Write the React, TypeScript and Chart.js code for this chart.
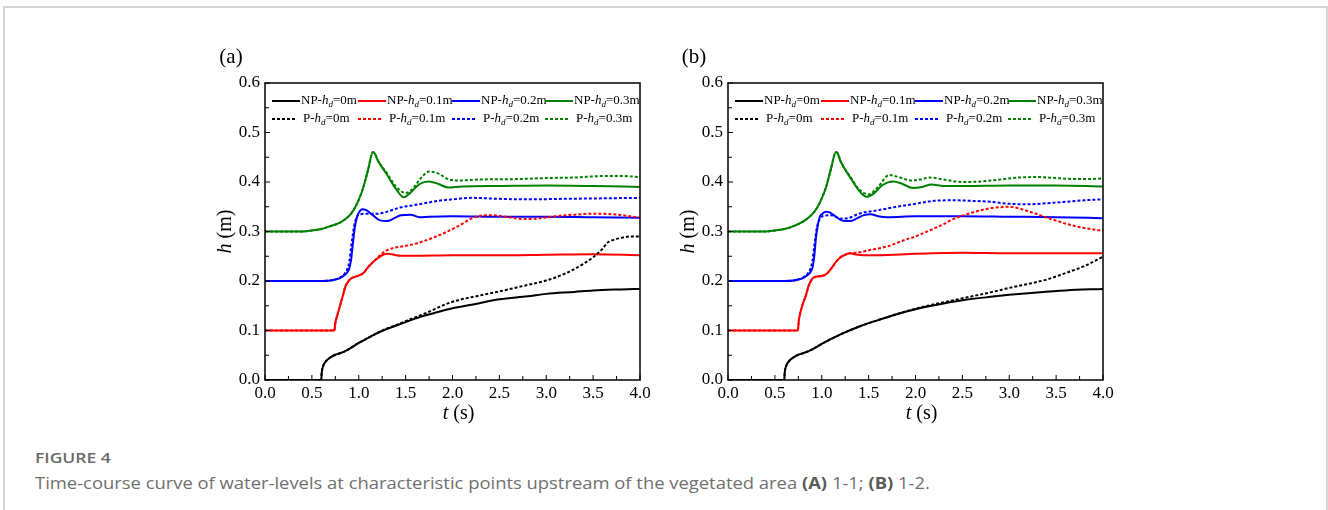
import React, { useEffect, useRef } from "react";
import { Chart, registerables } from "chart.js";

Chart.register(...registerables);

// ---------- tick labels ----------
const xTickValues = [0, 0.5, 1, 1.5, 2, 2.5, 3, 3.5, 4];
const xTickLabels = ["0.0", "0.5", "1.0", "1.5", "2.0", "2.5", "3.0", "3.5", "4.0"];
const yTickValues = [0, 0.1, 0.2, 0.3, 0.4, 0.5, 0.6];
const yTickLabels = ["0.0", "0.1", "0.2", "0.3", "0.4", "0.5", "0.6"];

// ---------- legend ----------
const legendPrefixes = ["NP-", "P-"];
const legendDepths = ["=0m", "=0.1m", "=0.2m", "=0.3m"];
const seriesColors = ["#000000", "#ff0000", "#0000ff", "#008000"];

// ---------- panel (a) data ----------
const tA_NP0 = [0, 0.6, 0.605, 0.62, 0.65, 0.7, 0.75, 0.8, 0.85, 0.9, 1.0, 1.1, 1.2, 1.3, 1.4, 1.5, 1.6, 1.8, 2.0, 2.2, 2.5, 2.8, 3.0, 3.3, 3.5, 3.8, 4.0];
const hA_NP0 = [0, 0, 0.015, 0.028, 0.038, 0.046, 0.051, 0.054, 0.058, 0.063, 0.075, 0.085, 0.095, 0.103, 0.11, 0.117, 0.124, 0.135, 0.145, 0.152, 0.163, 0.169, 0.174, 0.178, 0.181, 0.183, 0.184];
const tA_P0 = [0, 0.6, 0.605, 0.62, 0.65, 0.7, 0.75, 0.8, 0.85, 0.9, 1.0, 1.1, 1.2, 1.3, 1.4, 1.5, 1.7, 2.0, 2.3, 2.5, 2.8, 3.0, 3.2, 3.4, 3.5, 3.55, 3.6, 3.65, 3.7, 3.8, 3.9, 4.0];
const hA_P0 = [0, 0, 0.015, 0.028, 0.038, 0.046, 0.051, 0.054, 0.058, 0.063, 0.075, 0.085, 0.095, 0.104, 0.111, 0.119, 0.134, 0.158, 0.171, 0.179, 0.192, 0.201, 0.215, 0.235, 0.248, 0.256, 0.265, 0.277, 0.282, 0.287, 0.29, 0.29];

const tA_NP1 = [0, 0.74, 0.75, 0.77, 0.8, 0.83, 0.86, 0.9, 0.95, 1.0, 1.05, 1.1, 1.15, 1.2, 1.25, 1.3, 1.35, 1.45, 1.6, 2.0, 2.5, 3.0, 3.5, 4.0];
const hA_NP1 = [0.1, 0.1, 0.115, 0.13, 0.15, 0.17, 0.19, 0.202, 0.208, 0.211, 0.216, 0.228, 0.238, 0.246, 0.252, 0.255, 0.254, 0.251, 0.251, 0.252, 0.252, 0.253, 0.254, 0.252];
const tA_P1 = [0, 0.74, 0.75, 0.77, 0.8, 0.83, 0.86, 0.9, 0.95, 1.0, 1.05, 1.1, 1.15, 1.2, 1.25, 1.3, 1.4, 1.5, 1.6, 1.7, 1.8, 1.9, 2.0, 2.1, 2.2, 2.3, 2.4, 2.6, 2.75, 2.9, 3.1, 3.3, 3.5, 3.7, 3.85, 4.0];
const hA_P1 = [0.1, 0.1, 0.115, 0.13, 0.15, 0.17, 0.19, 0.202, 0.208, 0.211, 0.216, 0.228, 0.238, 0.247, 0.256, 0.262, 0.268, 0.271, 0.275, 0.281, 0.288, 0.296, 0.305, 0.315, 0.326, 0.332, 0.333, 0.329, 0.325, 0.326, 0.331, 0.334, 0.336, 0.335, 0.332, 0.328];

const tA_NP2 = [0, 0.6, 0.7, 0.75, 0.8, 0.85, 0.88, 0.9, 0.92, 0.94, 0.96, 0.98, 1.0, 1.04, 1.08, 1.15, 1.22, 1.3, 1.38, 1.45, 1.55, 1.65, 1.75, 2.0, 2.5, 3.0, 3.5, 4.0];
const hA_NP2 = [0.2, 0.2, 0.201, 0.203, 0.206, 0.212, 0.218, 0.226, 0.245, 0.28, 0.31, 0.328, 0.338, 0.345, 0.343, 0.333, 0.323, 0.321, 0.327, 0.333, 0.334, 0.329, 0.33, 0.331, 0.33, 0.33, 0.329, 0.328];
const tA_P2 = [0, 0.6, 0.7, 0.75, 0.8, 0.85, 0.88, 0.9, 0.92, 0.95, 0.98, 1.02, 1.1, 1.2, 1.27, 1.35, 1.45, 1.55, 1.7, 1.85, 2.0, 2.2, 2.5, 2.8, 3.2, 3.6, 4.0];
const hA_P2 = [0.2, 0.2, 0.201, 0.203, 0.207, 0.215, 0.225, 0.24, 0.27, 0.31, 0.33, 0.335, 0.336, 0.336, 0.338, 0.343, 0.349, 0.352, 0.357, 0.362, 0.365, 0.368, 0.366, 0.365, 0.366, 0.367, 0.368];

const tA_NP3 = [0, 0.4, 0.5, 0.6, 0.7, 0.8, 0.9, 0.95, 1.0, 1.05, 1.1, 1.15, 1.17, 1.2, 1.3, 1.4, 1.48, 1.55, 1.65, 1.75, 1.85, 1.95, 2.1, 2.5, 3.0, 3.5, 4.0];
const hA_NP3 = [0.3, 0.3, 0.302, 0.305, 0.311, 0.318, 0.332, 0.345, 0.364, 0.39, 0.425, 0.46, 0.458, 0.445, 0.415, 0.385, 0.369, 0.378, 0.396, 0.401, 0.396, 0.389, 0.391, 0.392, 0.393, 0.392, 0.39];
const tA_P3 = [0, 0.4, 0.5, 0.6, 0.7, 0.8, 0.9, 0.95, 1.0, 1.05, 1.1, 1.15, 1.17, 1.2, 1.3, 1.4, 1.5, 1.58, 1.65, 1.75, 1.85, 1.95, 2.05, 2.3, 2.7, 3.0, 3.3, 3.6, 3.8, 4.0];
const hA_P3 = [0.3, 0.3, 0.302, 0.305, 0.311, 0.318, 0.332, 0.345, 0.364, 0.39, 0.425, 0.46, 0.458, 0.445, 0.418, 0.39, 0.378, 0.387, 0.405, 0.421, 0.417, 0.406, 0.403, 0.405, 0.406, 0.408, 0.409, 0.412, 0.412, 0.41];

// ---------- panel (b) data ----------
const tB_NP0 = [0, 0.6, 0.605, 0.62, 0.65, 0.7, 0.75, 0.8, 0.9, 1.0, 1.2, 1.4, 1.6, 1.8, 2.0, 2.2, 2.5, 2.8, 3.0, 3.3, 3.6, 4.0];
const hB_NP0 = [0, 0, 0.015, 0.028, 0.038, 0.046, 0.051, 0.054, 0.062, 0.073, 0.092, 0.108, 0.121, 0.133, 0.143, 0.151, 0.161, 0.168, 0.172, 0.177, 0.181, 0.184];
const tB_P0 = [0, 0.6, 0.605, 0.62, 0.65, 0.7, 0.75, 0.8, 0.9, 1.0, 1.2, 1.4, 1.6, 1.8, 2.0, 2.2, 2.5, 2.8, 3.0, 3.2, 3.4, 3.6, 3.8, 4.0];
const hB_P0 = [0, 0, 0.015, 0.028, 0.038, 0.046, 0.051, 0.054, 0.062, 0.073, 0.092, 0.108, 0.121, 0.133, 0.144, 0.153, 0.165, 0.177, 0.186, 0.194, 0.203, 0.216, 0.23, 0.249];

const tB_NP1 = [0, 0.745, 0.755, 0.77, 0.8, 0.83, 0.86, 0.9, 0.95, 1.0, 1.05, 1.1, 1.15, 1.2, 1.25, 1.3, 1.35, 1.45, 1.6, 2.0, 2.5, 3.0, 3.5, 4.0];
const hB_NP1 = [0.1, 0.1, 0.12, 0.135, 0.155, 0.17, 0.19, 0.205, 0.209, 0.21, 0.214, 0.225, 0.238, 0.248, 0.253, 0.256, 0.254, 0.252, 0.252, 0.255, 0.257, 0.256, 0.256, 0.256];
const tB_P1 = [0, 0.745, 0.755, 0.77, 0.8, 0.83, 0.86, 0.9, 0.95, 1.0, 1.05, 1.1, 1.15, 1.2, 1.25, 1.3, 1.35, 1.4, 1.5, 1.7, 1.9, 2.0, 2.1, 2.2, 2.3, 2.4, 2.5, 2.6, 2.7, 2.8, 2.9, 3.0, 3.1, 3.2, 3.3, 3.4, 3.5, 3.6, 3.7, 3.8, 3.9, 4.0];
const hB_P1 = [0.1, 0.1, 0.12, 0.135, 0.155, 0.17, 0.19, 0.205, 0.209, 0.21, 0.214, 0.225, 0.238, 0.248, 0.253, 0.256, 0.257, 0.258, 0.262, 0.27, 0.284, 0.29, 0.298, 0.306, 0.315, 0.325, 0.332, 0.338, 0.343, 0.347, 0.349, 0.35, 0.347, 0.341, 0.335, 0.328, 0.322, 0.316, 0.311, 0.307, 0.304, 0.301];

const tB_NP2 = [0, 0.6, 0.7, 0.75, 0.8, 0.85, 0.88, 0.9, 0.92, 0.94, 0.96, 0.98, 1.0, 1.04, 1.08, 1.15, 1.22, 1.3, 1.38, 1.45, 1.52, 1.6, 1.7, 2.0, 2.5, 3.0, 3.5, 4.0];
const hB_NP2 = [0.2, 0.2, 0.201, 0.203, 0.206, 0.212, 0.218, 0.226, 0.25, 0.29, 0.315, 0.33, 0.335, 0.34, 0.339, 0.33, 0.322, 0.321, 0.327, 0.333, 0.335, 0.331, 0.329, 0.331, 0.331, 0.33, 0.329, 0.327];
const tB_P2 = [0, 0.6, 0.7, 0.75, 0.8, 0.85, 0.88, 0.9, 0.92, 0.95, 0.98, 1.02, 1.1, 1.2, 1.28, 1.4, 1.5, 1.6, 1.8, 2.0, 2.2, 2.4, 2.6, 2.8, 3.0, 3.2, 3.4, 3.6, 3.8, 4.0];
const hB_P2 = [0.2, 0.2, 0.201, 0.203, 0.207, 0.215, 0.225, 0.24, 0.27, 0.31, 0.325, 0.332, 0.333, 0.326, 0.327, 0.336, 0.34, 0.343, 0.35, 0.356, 0.362, 0.363, 0.362, 0.36, 0.356, 0.355, 0.357, 0.36, 0.363, 0.365];

const tB_NP3 = [0, 0.4, 0.5, 0.6, 0.7, 0.8, 0.9, 0.95, 1.0, 1.05, 1.1, 1.15, 1.17, 1.2, 1.3, 1.4, 1.48, 1.55, 1.65, 1.76, 1.85, 1.97, 2.07, 2.17, 2.3, 2.5, 3.0, 3.5, 4.0];
const hB_NP3 = [0.3, 0.3, 0.302, 0.305, 0.311, 0.32, 0.335, 0.348, 0.367, 0.392, 0.428, 0.46, 0.458, 0.442, 0.41, 0.382, 0.37, 0.376, 0.394, 0.401, 0.397, 0.388, 0.39, 0.395, 0.392, 0.392, 0.393, 0.393, 0.391];
const tB_P3 = [0, 0.4, 0.5, 0.6, 0.7, 0.8, 0.9, 0.95, 1.0, 1.05, 1.1, 1.15, 1.17, 1.2, 1.3, 1.4, 1.5, 1.6, 1.72, 1.82, 1.95, 2.05, 2.15, 2.3, 2.5, 2.7, 2.9, 3.1, 3.3, 3.5, 3.7, 3.85, 4.0];
const hB_P3 = [0.3, 0.3, 0.302, 0.305, 0.311, 0.32, 0.335, 0.348, 0.367, 0.392, 0.428, 0.46, 0.458, 0.442, 0.412, 0.385, 0.375, 0.39, 0.414, 0.41, 0.403, 0.405, 0.409, 0.405, 0.4, 0.401, 0.405, 0.409, 0.41, 0.408, 0.406, 0.406, 0.407];

const SERIF = '"Liberation Serif", "Times New Roman", serif';

type Series = { t: number[]; h: number[]; color: string; dashed: boolean };

const panelA: Series[] = [
  { t: tA_NP0, h: hA_NP0, color: seriesColors[0], dashed: false },
  { t: tA_NP1, h: hA_NP1, color: seriesColors[1], dashed: false },
  { t: tA_NP2, h: hA_NP2, color: seriesColors[2], dashed: false },
  { t: tA_NP3, h: hA_NP3, color: seriesColors[3], dashed: false },
  { t: tA_P0, h: hA_P0, color: seriesColors[0], dashed: true },
  { t: tA_P1, h: hA_P1, color: seriesColors[1], dashed: true },
  { t: tA_P2, h: hA_P2, color: seriesColors[2], dashed: true },
  { t: tA_P3, h: hA_P3, color: seriesColors[3], dashed: true },
];
const panelB: Series[] = [
  { t: tB_NP0, h: hB_NP0, color: seriesColors[0], dashed: false },
  { t: tB_NP1, h: hB_NP1, color: seriesColors[1], dashed: false },
  { t: tB_NP2, h: hB_NP2, color: seriesColors[2], dashed: false },
  { t: tB_NP3, h: hB_NP3, color: seriesColors[3], dashed: false },
  { t: tB_P0, h: hB_P0, color: seriesColors[0], dashed: true },
  { t: tB_P1, h: hB_P1, color: seriesColors[1], dashed: true },
  { t: tB_P2, h: hB_P2, color: seriesColors[2], dashed: true },
  { t: tB_P3, h: hB_P3, color: seriesColors[3], dashed: true },
];

function drawLegendLabel(ctx: CanvasRenderingContext2D, x: number, y: number, prefix: string, suffix: string) {
  ctx.fillStyle = "#000";
  ctx.textBaseline = "middle";
  ctx.textAlign = "left";
  ctx.font = `13px ${SERIF}`;
  ctx.fillText(prefix, x, y);
  x += ctx.measureText(prefix).width;
  ctx.font = `italic 13px ${SERIF}`;
  ctx.fillText("h", x, y);
  x += ctx.measureText("h").width;
  ctx.font = `italic 9px ${SERIF}`;
  ctx.fillText("d", x, y + 4);
  x += ctx.measureText("d").width;
  ctx.font = `13px ${SERIF}`;
  ctx.fillText(suffix, x, y);
}

function makeDecor(panelLabel: string) {
  return {
    id: "decor",
    afterDraw(chart: any) {
      const { ctx, chartArea: ca, scales } = chart;
      const xs = scales.x;
      const ys = scales.y;
      ctx.save();
      // frame
      ctx.strokeStyle = "#000";
      ctx.lineWidth = 1.5;
      ctx.setLineDash([]);
      ctx.strokeRect(ca.left, ca.top, ca.right - ca.left, ca.bottom - ca.top);
      // inward ticks (major + minor)
      ctx.lineWidth = 1;
      for (let i = 0; i < xTickValues.length; i++) {
        const px = xs.getPixelForValue(xTickValues[i]);
        ctx.beginPath();
        ctx.moveTo(px, ca.bottom);
        ctx.lineTo(px, ca.bottom - 5);
        ctx.stroke();
        if (i < xTickValues.length - 1) {
          const mx = xs.getPixelForValue((xTickValues[i] + xTickValues[i + 1]) / 2);
          ctx.beginPath();
          ctx.moveTo(mx, ca.bottom);
          ctx.lineTo(mx, ca.bottom - 4);
          ctx.stroke();
        }
      }
      for (let i = 0; i < yTickValues.length; i++) {
        const py = ys.getPixelForValue(yTickValues[i]);
        ctx.beginPath();
        ctx.moveTo(ca.left, py);
        ctx.lineTo(ca.left + 5, py);
        ctx.stroke();
        if (i < yTickValues.length - 1) {
          const my = ys.getPixelForValue((yTickValues[i] + yTickValues[i + 1]) / 2);
          ctx.beginPath();
          ctx.moveTo(ca.left, my);
          ctx.lineTo(ca.left + 4, my);
          ctx.stroke();
        }
      }
      // legend
      const lineStarts = [7, 93, 187, 280];
      const rowY = [ca.top + 18, ca.top + 36];
      for (let r = 0; r < 2; r++) {
        for (let c = 0; c < 4; c++) {
          const x0 = ca.left + lineStarts[c];
          const len = r === 0 ? 28 : 25;
          ctx.strokeStyle = seriesColors[c];
          ctx.lineWidth = 2;
          ctx.setLineDash(r === 0 ? [] : [3, 2]);
          ctx.beginPath();
          ctx.moveTo(x0, rowY[r]);
          ctx.lineTo(x0 + len, rowY[r]);
          ctx.stroke();
          ctx.setLineDash([]);
          drawLegendLabel(ctx, x0 + (r === 0 ? 29 : 31), rowY[r], legendPrefixes[r], legendDepths[c]);
        }
      }
      // axis titles
      ctx.fillStyle = "#000";
      ctx.textBaseline = "middle";
      const xt1 = "t";
      const xt2 = " (s)";
      ctx.font = `italic 20px ${SERIF}`;
      const w1 = ctx.measureText(xt1).width;
      ctx.font = `20px ${SERIF}`;
      const w2 = ctx.measureText(xt2).width;
      const xc = (ca.left + ca.right) / 2 + 6;
      const sx = xc - (w1 + w2) / 2;
      ctx.textAlign = "left";
      ctx.font = `italic 20px ${SERIF}`;
      ctx.fillText(xt1, sx, ca.bottom + 34);
      ctx.font = `20px ${SERIF}`;
      ctx.fillText(xt2, sx + w1, ca.bottom + 34);
      ctx.save();
      ctx.translate(ca.left - 39, (ca.top + ca.bottom) / 2);
      ctx.rotate(-Math.PI / 2);
      ctx.font = `italic 20px ${SERIF}`;
      const v1 = ctx.measureText("h").width;
      ctx.font = `20px ${SERIF}`;
      const v2 = ctx.measureText(" (m)").width;
      const sy = -(v1 + v2) / 2;
      ctx.font = `italic 20px ${SERIF}`;
      ctx.fillText("h", sy, 0);
      ctx.font = `20px ${SERIF}`;
      ctx.fillText(" (m)", sy + v1, 0);
      ctx.restore();
      // panel label
      ctx.font = `21px ${SERIF}`;
      ctx.textAlign = "center";
      ctx.fillText(panelLabel, ca.left - 34, ca.top - 26);
      ctx.restore();
    },
  };
}

function buildConfig(series: Series[], panelLabel: string): any {
  const ordered = [...series.filter((s) => s.dashed), ...series.filter((s) => !s.dashed)];
  return {
    type: "line",
    data: {
      datasets: ordered.map((s) => ({
        data: s.t.map((t, i) => ({ x: t, y: s.h[i] })),
        borderColor: s.color,
        backgroundColor: s.color,
        borderWidth: 2,
        borderDash: s.dashed ? [3, 2] : [],
        pointRadius: 0,
        fill: false,
        cubicInterpolationMode: "monotone",
      })),
    },
    options: {
      animation: false,
      responsive: false,
      events: [],
      layout: { padding: { top: 43, right: 14, left: 0, bottom: 0 } },
      plugins: { legend: { display: false }, tooltip: { enabled: false }, title: { display: false } },
      scales: {
        x: {
          type: "linear",
          min: 0,
          max: 4,
          afterBuildTicks: (s: any) => {
            s.ticks = xTickValues.map((v) => ({ value: v }));
          },
          afterFit: (s: any) => {
            s.height = 50;
          },
          ticks: {
            callback: (_v: any, i: number) => xTickLabels[i],
            font: { family: SERIF, size: 17 },
            color: "#000",
            padding: 3,
            maxRotation: 0,
            autoSkip: false,
          },
          grid: { display: false, drawTicks: false },
          border: { display: false },
        },
        y: {
          type: "linear",
          min: 0,
          max: 0.6,
          afterBuildTicks: (s: any) => {
            s.ticks = yTickValues.map((v) => ({ value: v }));
          },
          afterFit: (s: any) => {
            s.width = 60;
          },
          ticks: {
            callback: (_v: any, i: number) => yTickLabels[i],
            font: { family: SERIF, size: 17 },
            color: "#000",
            padding: 5,
            autoSkip: false,
          },
          grid: { display: false, drawTicks: false },
          border: { display: false },
        },
      },
    },
    plugins: [makeDecor(panelLabel)],
  };
}

function Panel({ series, label, left }: { series: Series[]; label: string; left: number }) {
  const ref = useRef<HTMLCanvasElement | null>(null);
  useEffect(() => {
    if (!ref.current) return;
    const chart = new Chart(ref.current, buildConfig(series, label));
    return () => chart.destroy();
  }, [series, label]);
  return (
    <canvas
      ref={ref}
      width={449}
      height={390}
      style={{ position: "absolute", left, top: 40, width: 449, height: 390 }}
    />
  );
}

export default function App() {
  return (
    <div
      style={{
        position: "fixed",
        left: 0,
        top: 0,
        width: 1328,
        height: 510,
        overflow: "hidden",
        background: "#fff",
      }}
    >
      <div
        style={{
          position: "absolute",
          left: 3,
          top: 6,
          width: 1325,
          height: 620,
          border: "2px solid #d6d6d6",
          boxSizing: "border-box",
        }}
      />
      <Panel series={panelA} label="(a)" left={205} />
      <Panel series={panelB} label="(b)" left={668} />
      <div
        style={{
          position: "absolute",
          left: 35,
          top: 451,
          fontFamily: '"Open Sans", sans-serif',
          fontSize: 14,
          lineHeight: "14px",
          fontWeight: 600,
          color: "#6a6a6a",
          whiteSpace: "nowrap",
          transform: "scaleX(1.25)",
          transformOrigin: "left center",
        }}
      >
        FIGURE 4
      </div>
      <div
        style={{
          position: "absolute",
          left: 35,
          top: 474,
          fontFamily: '"Open Sans", sans-serif',
          fontSize: 16,
          lineHeight: "18px",
          color: "#707070",
          whiteSpace: "nowrap",
          transform: "scaleX(1.15)",
          transformOrigin: "left center",
        }}
      >
        Time-course curve of water-levels at characteristic points upstream of the vegetated area{" "}
        <b style={{ fontWeight: 700, color: "#5a5a5a" }}>(A)</b> 1-1; <b style={{ fontWeight: 700, color: "#5a5a5a" }}>(B)</b> 1-2.
      </div>
    </div>
  );
}
